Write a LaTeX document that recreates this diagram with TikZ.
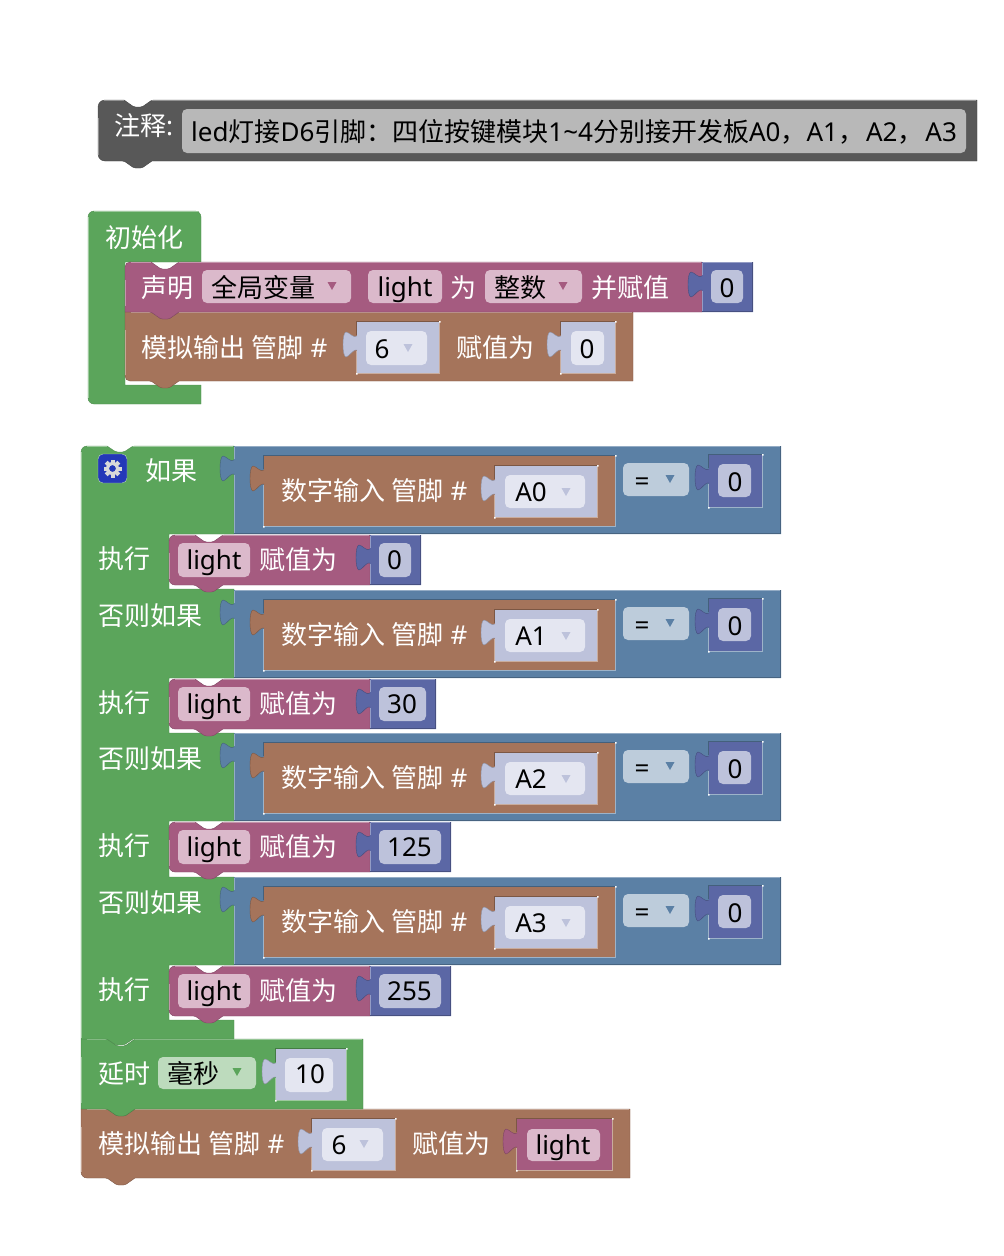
\documentclass[tikz,border=0pt]{standalone}
\usepackage{fontspec}
\setmainfont{Noto Sans}
\newfontfamily\cjk{Noto Sans CJK SC}
\newcommand{\zh}[1]{{\cjk #1}}
\newcommand{\fwcomma}{{\cjk\symbol{"FF0C}}}
\newcommand{\fwcolon}{{\cjk\symbol{"FF1A}}}
\definecolor{loopgreen}{RGB}{91,165,91}
\definecolor{varpurple}{RGB}{165,91,128}
\definecolor{iobrown}{RGB}{165,116,91}
\definecolor{logicblue}{RGB}{91,128,165}
\definecolor{mathindigo}{RGB}{91,103,165}
\definecolor{notegray}{RGB}{88,88,88}
\definecolor{shadowfill}{RGB}{189,194,219}
\definecolor{shadowfield}{RGB}{228,230,241}
\definecolor{purplefield}{RGB}{219,185,203}
\definecolor{bluefield}{RGB}{189,204,219}
\definecolor{greenfield}{RGB}{189,219,189}
\definecolor{notefield}{RGB}{184,184,184}
\definecolor{gearblue}{RGB}{36,56,184}
\tikzset{
  lbl/.style   ={anchor=base west, inner sep=0pt, text=white, font=\fontsize{26}{30}\selectfont},
  dark/.style  ={anchor=base west, inner sep=0pt, text=black, font=\fontsize{26}{30}\selectfont},
  darkc/.style ={anchor=base, inner sep=0pt, text=black, font=\fontsize{26}{30}\selectfont},
  field/.style ={rounded corners=5pt, fill=#1}
}
% #1 x, #2 y, #3 w, #4 h, #5 colour, #6 top-left radius, #7 bottom-left radius
\newcommand{\stmtblock}[7]{%
  \begin{scope}[shift={(#1,#2)}]
    \path[fill=#5, draw=#5!78!black]
      (0,20) [rounded corners=#6] -- (0,0) [sharp corners] -- (26,0)
      [rounded corners=1.5pt] -- (36,7) -- (44,7) -- (54,0) [sharp corners] -- (#3,0) -- (#3,#4) -- (54,#4)
      [rounded corners=1.5pt] -- (44,#4+7) -- (36,#4+7) -- (26,#4) [rounded corners=#7] -- (0,#4) [sharp corners] -- (0,20) -- cycle;
    \draw[#5!65!white] (0.5,18) -- (0.5,#4-6);
    \draw[#5!65!white] (6,0.5) -- (26,0.5) (54,0.5) -- (#3-1,0.5);
  \end{scope}}
% #1 x, #2 y, #3 w, #4 h, #5 colour
\newcommand{\valshape}[5]{%
  \begin{scope}[shift={(#1,#2)}]
    \fill[#5] (0,0) -- (#3,0) -- (#3,#4) -- (0,#4) -- (0,28)
      .. controls (-3,26) and (-8,35) .. (-11,35)
      .. controls (-15,35) and (-15,10) .. (-11,10)
      .. controls (-8,10) and (-3,17) .. (0,14) -- cycle;
    \draw[#5!75!black] (0,28) .. controls (-3,26) and (-8,35) .. (-11,35)
      .. controls (-15,35) and (-15,10) .. (-11,10) .. controls (-8,10) and (-3,17) .. (0,14);
  \end{scope}}
\newcommand{\valblock}[5]{%
  \valshape{#1}{#2}{#3}{#4}{#5}
  \begin{scope}[shift={(#1,#2)}]
    \draw[#5!65!white] (0.5,0.5) -- (#3-1,0.5) (0.5,0.5) -- (0.5,13) (0.5,29) -- (0.5,#4);
    \draw[#5!78!black] (#3-0.5,0) -- (#3-0.5,#4-0.5) -- (0,#4-0.5);
  \end{scope}}
% plugged into a socket: #6 is the colour of the parent
\newcommand{\inblock}[6]{%
  \valshape{#1}{#2}{#3}{#4}{#5}
  \begin{scope}[shift={(#1,#2)}]
    \draw[#6!75!black] (-0.5,13) -- (-0.5,-0.5) -- (#3,-0.5);
    \draw[#6!60!white] (#3+0.5,0) -- (#3+0.5,#4+0.5) -- (-0.5,#4+0.5) -- (-0.5,29);
    \fill[white] (-1,#4) rectangle +(1.5,1.5) (#3,-1) rectangle +(1.5,1.5);
  \end{scope}}
\newcommand{\droptri}[3]{\fill[#3] (#1-4.5,#2-4) -- (#1+4.5,#2-4) -- (#1,#2+4) -- cycle;}
\begin{document}
\begin{tikzpicture}[x=1pt,y=-1pt]
\useasboundingbox (0,0) rectangle (1004,1256);
% Note
\stmtblock{98}{100}{879}{61}{notegray}{7pt}{7pt}
\node[lbl] (notehead) at (114,135) {\zh{注释}:};
\fill[field=notefield] (182,109) rectangle (966,153);
\node[dark] (notetext) at (191,141) {led\zh{灯接}D6\zh{引脚}\fwcolon\zh{四位按键模块}1\textasciitilde4\zh{分别接开发板}A0\fwcomma A1\fwcomma\kern2pt A2\fwcomma\kern2pt A3};
% Setup
\path[fill=loopgreen, draw=loopgreen!85!black]
  (88,260) [rounded corners=6pt] -- (88,211) -- (201,211) [sharp corners] -- (201,262) -- (125,262) -- (125,385) -- (201,385) -- (201,404)
  [rounded corners=6pt] -- (88,404) [sharp corners] -- (88,260) -- cycle;
\draw[loopgreen!60!white] (94,211.5) -- (199,211.5) (88.5,217) -- (88.5,398);
\node[lbl] (setuphead) at (105,247) {\zh{初始化}};
\stmtblock{125}{312}{508}{69}{iobrown}{0pt}{5pt}
\node[lbl] (writepin) at (141,357) {\zh{模拟输出} \zh{管脚} \#};
\inblock{357}{322}{82}{51}{shadowfill}{iobrown}
\fill[field=shadowfield] (366,331) rectangle (427,365);
\node[darkc] (pinsix) at (382,358) {6};
\droptri{408}{348}{shadowfill}
\node[lbl] (writeval) at (456,357) {\zh{赋值为}};
\inblock{561}{322}{54}{51}{shadowfill}{iobrown}
\fill[field=shadowfield] (571,331) rectangle (604,365);
\node[darkc] (writezero) at (587,358) {0};
\stmtblock{125}{262}{577}{50}{varpurple}{5pt}{0pt}
\node[lbl] (declare) at (141,297) {\zh{声明}};
\fill[field=purplefield] (202,270) rectangle (351,303);
\node[dark] (scope) at (211,297) {\zh{全局变量}};
\droptri{332}{286}{varpurple}
\fill[field=purplefield] (368,270) rectangle (442,303);
\node[darkc] (varname) at (405,296) {light};
\node[lbl] (wei) at (450,297) {\zh{为}};
\fill[field=purplefield] (485,270) rectangle (582,303);
\node[dark] (vartype) at (494,297) {\zh{整数}};
\droptri{563}{286}{varpurple}
\node[lbl] (initval) at (591,297) {\zh{并赋值}};
\valblock{702}{262}{51}{50}{mathindigo}
\fill[field=shadowfill] (711,270) rectangle (743,303);
\node[darkc] (initzero) at (727,297) {0};
% Tail of the loop
\stmtblock{81}{1109}{549}{69}{iobrown}{0pt}{6pt}
\node[lbl] (tailpin) at (98,1153) {\zh{模拟输出} \zh{管脚} \#};
\inblock{312}{1119}{83}{51}{shadowfill}{iobrown}
\fill[field=shadowfield] (322,1128) rectangle (383,1161);
\node[darkc] (tailsix) at (339,1154) {6};
\droptri{364}{1144}{shadowfill}
\node[lbl] (tailval) at (412,1153) {\zh{赋值为}};
\inblock{517}{1119}{95}{51}{varpurple}{iobrown}
\fill[field=purplefield] (527,1129) rectangle (600,1161);
\node[darkc] (taillight) at (563,1154) {light};
\stmtblock{81}{1039}{282}{70}{loopgreen}{0pt}{0pt}
\node[lbl] (delay) at (98,1083) {\zh{延时}};
\fill[field=greenfield] (158,1057) rectangle (256,1089);
\node[dark] (unit) at (167,1083) {\zh{毫秒}};
\droptri{237}{1072}{loopgreen}
\inblock{276}{1049}{70}{51}{shadowfill}{loopgreen}
\fill[field=shadowfield] (285,1058) rectangle (333,1092);
\node[darkc] (delayten) at (310,1083) {10};
% If block
\path[fill=loopgreen, draw=loopgreen!85!black]
  (81,500) [rounded corners=6pt] -- (81,446) [sharp corners] -- (107,446) [rounded corners=1.5pt] -- (116,452) -- (124,452) -- (133,446) [sharp corners]
  -- (234,446) -- (234,534) -- (169,534) -- (169,589) -- (234,589) -- (234,678) -- (169,678) -- (169,733) -- (234,733)
  -- (234,821) -- (169,821) -- (169,877) -- (234,877) -- (234,965) -- (169,965) -- (169,1020) -- (234,1020) -- (234,1039)
  -- (133,1039) [rounded corners=1.5pt] -- (124,1045) -- (116,1045) -- (107,1039) [sharp corners] -- (81,1039) -- (81,500) -- cycle;
\draw[loopgreen!60!white] (87,446.5) -- (107,446.5) (133,446.5) -- (233,446.5) (81.5,452) -- (81.5,1038);
\draw[rounded corners=5pt, fill=gearblue, draw=loopgreen!45!white] (98,454) rectangle (127,483);
\foreach \a in {0,45,...,315}{
  \fill[black!15, rotate around={\a:(112.5,468.5)}] (110.5,459.5) rectangle (114.5,463);
}
\draw[black!15, line width=3.2pt] (112.5,468.5) circle (5.2);
\node[lbl] (ifhead) at (145,480) {\zh{如果}};
\foreach \r/\val/\w/\pin/\n/\head in {446/0/51/A0/1/,590/30/66/A1/2/否则如果,733/125/81/A2/3/否则如果,877/255/81/A3/4/否则如果}{
  \begin{scope}[shift={(0,\r)}]
    \valblock{234}{0}{547}{88}{logicblue}
    \ifnum\n>1 \node[lbl] (elif\n) at (98,35) {\zh{\head}}; \fi
    \inblock{264}{10}{351}{70}{iobrown}{logicblue}
    \node[lbl] (readpin\n) at (281,54) {\zh{数字输入} \zh{管脚} \#};
    \inblock{495}{20}{102}{51}{shadowfill}{iobrown}
    \fill[field=shadowfield] (505,29) rectangle (585,62);
    \node[darkc] (pin\n) at (531,55) {\pin};
    \droptri{566}{46}{shadowfill}
    \fill[field=bluefield] (623,17) rectangle (689,50);
    \node[darkc] (eq\n) at (642,44) {=};
    \droptri{670}{33}{logicblue}
    \inblock{709}{9}{53}{52}{mathindigo}{logicblue}
    \fill[field=shadowfill] (718,18) rectangle (751,51);
    \node[darkc] (cmp\n) at (735,45) {0};
    \node[lbl] (dolbl\n) at (98,122) {\zh{执行}};
    \stmtblock{169}{89}{201}{50}{varpurple}{6pt}{6pt}
    \fill[field=purplefield] (178,97) rectangle (250,131);
    \node[darkc] (lightvar\n) at (214,123) {light};
    \node[lbl] (setlbl\n) at (259,123) {\zh{赋值为}};
    \valblock{370}{89}{\w}{50}{mathindigo}
    \fill[field=shadowfill] (379,97) rectangle (370+\w-10,131);
    \node[darkc, anchor=base] (val\n) at (370+\w/2-1,123) {\val};
  \end{scope}
}
\end{tikzpicture}
\end{document}
